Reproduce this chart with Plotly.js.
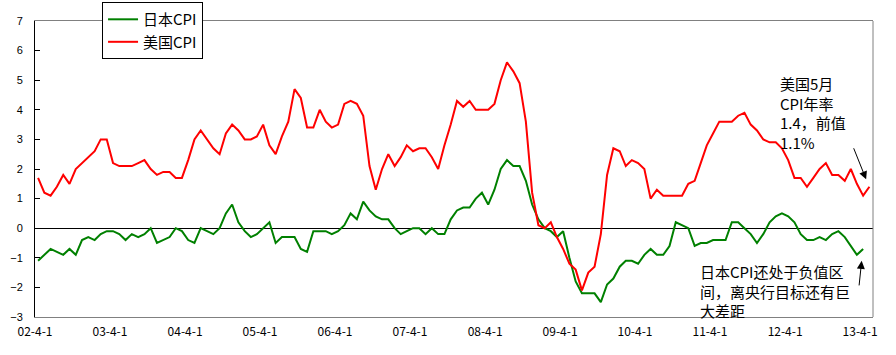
<!DOCTYPE html>
<html>
<head>
<meta charset="utf-8">
<script src="https://cdn.plot.ly/plotly-3.0.1.min.js"></script>
<style>html,body{margin:0;padding:0;background:#fff;}#chart{width:896px;height:355px;}</style>
</head>
<body>
<div id="chart"></div>
<script>
// Monthly categories (2002-04 .. 2013-05)
const months = [
  '2002-04','2002-05','2002-06','2002-07','2002-08','2002-09','2002-10','2002-11','2002-12',
  '2003-01','2003-02','2003-03','2003-04','2003-05','2003-06','2003-07','2003-08','2003-09','2003-10','2003-11','2003-12',
  '2004-01','2004-02','2004-03','2004-04','2004-05','2004-06','2004-07','2004-08','2004-09','2004-10','2004-11','2004-12',
  '2005-01','2005-02','2005-03','2005-04','2005-05','2005-06','2005-07','2005-08','2005-09','2005-10','2005-11','2005-12',
  '2006-01','2006-02','2006-03','2006-04','2006-05','2006-06','2006-07','2006-08','2006-09','2006-10','2006-11','2006-12',
  '2007-01','2007-02','2007-03','2007-04','2007-05','2007-06','2007-07','2007-08','2007-09','2007-10','2007-11','2007-12',
  '2008-01','2008-02','2008-03','2008-04','2008-05','2008-06','2008-07','2008-08','2008-09','2008-10','2008-11','2008-12',
  '2009-01','2009-02','2009-03','2009-04','2009-05','2009-06','2009-07','2009-08','2009-09','2009-10','2009-11','2009-12',
  '2010-01','2010-02','2010-03','2010-04','2010-05','2010-06','2010-07','2010-08','2010-09','2010-10','2010-11','2010-12',
  '2011-01','2011-02','2011-03','2011-04','2011-05','2011-06','2011-07','2011-08','2011-09','2011-10','2011-11','2011-12',
  '2012-01','2012-02','2012-03','2012-04','2012-05','2012-06','2012-07','2012-08','2012-09','2012-10','2012-11','2012-12',
  '2013-01','2013-02','2013-03','2013-04','2013-05'
];

// 日本CPI (2002-04 .. 2013-04)
const japanCPI = [
  -1.1,-0.9,-0.7,-0.8,-0.9,-0.7,-0.9,-0.4,-0.3,
  -0.4,-0.2,-0.1,-0.1,-0.2,-0.4,-0.2,-0.3,-0.2,0.0,-0.5,-0.4,
  -0.3,0.0,-0.1,-0.4,-0.5,0.0,-0.1,-0.2,0.0,0.5,0.8,0.2,
  -0.1,-0.3,-0.2,0.0,0.2,-0.5,-0.3,-0.3,-0.3,-0.7,-0.8,-0.1,
  -0.1,-0.1,-0.2,-0.1,0.1,0.5,0.3,0.9,0.6,0.4,0.3,0.3,
  0.0,-0.2,-0.1,0.0,0.0,-0.2,0.0,-0.2,-0.2,0.3,0.6,0.7,
  0.7,1.0,1.2,0.8,1.3,2.0,2.3,2.1,2.1,1.6,0.8,0.3,
  0.0,-0.1,-0.3,-0.1,-1.0,-1.8,-2.2,-2.2,-2.2,-2.5,-1.9,-1.7,
  -1.3,-1.1,-1.1,-1.2,-0.9,-0.7,-0.9,-0.9,-0.6,0.2,0.1,0.0,
  -0.6,-0.5,-0.5,-0.4,-0.4,-0.4,0.2,0.2,0.0,-0.2,-0.5,-0.2,
  0.2,0.4,0.5,0.4,0.2,-0.2,-0.4,-0.4,-0.3,-0.4,-0.2,-0.1,
  -0.3,-0.6,-0.9,-0.7
];

// 美国CPI (2002-04 .. 2013-05)
const usCPI = [
  1.7,1.2,1.1,1.4,1.8,1.5,2.0,2.2,2.4,
  2.6,3.0,3.0,2.2,2.1,2.1,2.1,2.2,2.3,2.0,1.8,1.9,
  1.9,1.7,1.7,2.3,3.0,3.3,3.0,2.7,2.5,3.2,3.5,3.3,
  3.0,3.0,3.1,3.5,2.8,2.5,3.1,3.6,4.7,4.4,3.4,3.4,
  4.0,3.6,3.4,3.5,4.2,4.3,4.2,3.8,2.1,1.3,2.0,2.5,
  2.1,2.4,2.8,2.6,2.7,2.7,2.4,2.0,2.8,3.5,4.3,4.1,
  4.3,4.0,4.0,4.0,4.2,5.0,5.6,5.3,4.9,3.6,1.2,0.1,
  0.0,0.2,-0.3,-0.7,-1.2,-1.4,-2.1,-1.5,-1.3,-0.2,1.8,2.7,
  2.6,2.1,2.3,2.2,2.0,1.0,1.3,1.1,1.1,1.1,1.1,1.5,
  1.6,2.2,2.8,3.2,3.6,3.6,3.6,3.8,3.9,3.5,3.3,3.0,
  2.9,2.9,2.7,2.3,1.7,1.7,1.4,1.7,2.0,2.2,1.8,1.8,
  1.6,2.0,1.5,1.1,1.4
];

const tickVals = ['2002-04-01','2003-04-01','2004-04-01','2005-04-01','2006-04-01','2007-04-01',
                  '2008-04-01','2009-04-01','2010-04-01','2011-04-01','2012-04-01','2013-04-01'];
const tickLabels = ['02-4-1','03-4-1','04-4-1','05-4-1','06-4-1','07-4-1',
                    '08-4-1','09-4-1','10-4-1','11-4-1','12-4-1','13-4-1'];
const seriesNames = ['日本CPI','美国CPI'];
const noteUS = '美国5月<br>CPI年率<br>1.4，前值<br>1.1%';
const noteJP = '日本CPI还处于负值区<br>间，离央行目标还有巨<br>大差距';

const xRange = ['2002-04-01','2013-06-03'];
const cjk = '"Noto Sans CJK SC", "Noto Sans", sans-serif';

const jpX = months.slice(0, japanCPI.length);
const traces = [
  {x: jpX, y: japanCPI, name: seriesNames[0], type: 'scatter', mode: 'lines',
   xperiod: 'M1', xperiodalignment: 'middle',
   line: {color: '#008000', width: 2}},
  {x: months, y: usCPI, name: seriesNames[1], type: 'scatter', mode: 'lines',
   xperiod: 'M1', xperiodalignment: 'middle',
   line: {color: '#FF0000', width: 2}}
];

const lastUS = usCPI.length - 1, lastJP = japanCPI.length - 1;
const layout = {
  width: 896, height: 355,
  margin: {l: 35, r: 23, t: 21, b: 38, pad: 0, autoexpand: false},
  paper_bgcolor: '#fff', plot_bgcolor: '#fff',
  showlegend: true,
  legend: {x: 0.08, y: 1.064, xanchor: 'left', yanchor: 'top',
           bgcolor: '#fff', bordercolor: '#000', borderwidth: 1,
           font: {family: cjk, size: 15, color: '#000'},
           tracegroupgap: 0, itemwidth: 30},
  xaxis: {type: 'date', range: xRange, tickmode: 'array', tickvals: tickVals, ticktext: tickLabels,
          ticks: '', showgrid: false, zeroline: false,
          showline: true, linecolor: '#808080', linewidth: 1, mirror: true,
          tickfont: {family: cjk, size: 12, color: '#000'}, ticklabelstandoff: 4},
  xaxis2: {type: 'date', range: xRange, overlaying: 'x', anchor: 'free', position: 0.7, side: 'top',
           tickmode: 'array', tickvals: tickVals, ticks: 'outside', ticklen: 4, tickcolor: '#000', tickwidth: 1,
           showticklabels: false, showline: false, showgrid: false, zeroline: false},
  yaxis: {range: [-3, 7], tickmode: 'linear', tick0: -3, dtick: 1,
          ticks: 'inside', ticklen: 5, tickcolor: '#000', tickwidth: 1,
          showline: true, linecolor: '#000', linewidth: 1, showgrid: false,
          zeroline: true, zerolinecolor: '#000', zerolinewidth: 1,
          tickfont: {family: '"Liberation Sans", Arial, sans-serif', size: 11, color: '#000'},
          ticklabelstandoff: 9},
  shapes: [
    {type: 'line', xref: 'paper', yref: 'paper', x0: 1, x1: 1, y0: 0, y1: 1,
     line: {color: '#808080', width: 1}}
  ],
  annotations: [
    {xref: 'paper', yref: 'paper', x: 0.8866, y: 0.83, xanchor: 'left', yanchor: 'top',
     text: noteUS, showarrow: false, align: 'left',
     font: {family: cjk, size: 15, color: '#000'}},
    {xref: 'paper', yref: 'paper', x: 0.791, y: 0.195, xanchor: 'left', yanchor: 'top',
     text: noteJP, showarrow: false, align: 'left',
     font: {family: cjk, size: 15, color: '#000'}},
    {x: months[lastUS] + '-15', y: usCPI[lastUS], xref: 'x', yref: 'y', text: '',
     showarrow: true, arrowhead: 2, arrowsize: 1.6, arrowwidth: 1, arrowcolor: '#000',
     ax: -16, ay: -40, standoff: 8},
    {x: jpX[lastJP] + '-15', y: japanCPI[lastJP], xref: 'x', yref: 'y', text: '',
     showarrow: true, arrowhead: 2, arrowsize: 1.6, arrowwidth: 1, arrowcolor: '#000',
     ax: -4, ay: 38, standoff: 12}
  ]
};

Plotly.newPlot('chart', traces, layout, {staticPlot: true, displayModeBar: false});
</script>
</body>
</html>
